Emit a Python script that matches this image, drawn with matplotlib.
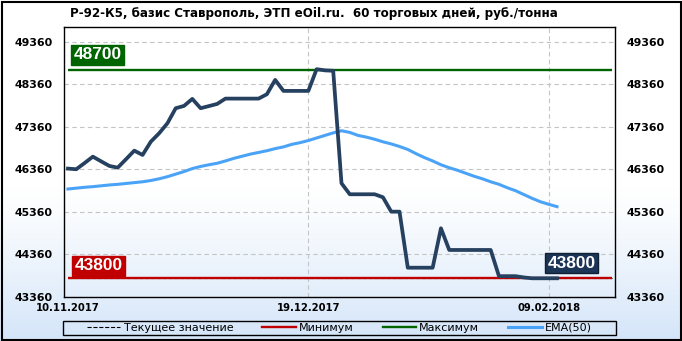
import numpy as np
import matplotlib.pyplot as plt
from matplotlib.patches import Rectangle

# 60 trading days
days = list(range(60))
price = [46380, 46365, 46510, 46661, 46550, 46442, 46402, 46600, 46802, 46701,
         47014, 47211, 47447, 47800, 47854, 48019, 47800, 47850, 47901, 48026,
         48026, 48026, 48026, 48026, 48129, 48466, 48207, 48207, 48207, 48207,
         48718, 48690, 48680, 46035, 45776, 45776, 45776, 45776, 45706, 45367,
         45367, 44049, 44049, 44049, 44049, 44976, 44466, 44466, 44466, 44466,
         44466, 44466, 43850, 43850, 43850, 43820, 43800, 43800, 43800, 43800]
ema50 = [45900, 45920, 45940, 45955, 45975, 45995, 46010, 46030, 46050, 46070,
         46100, 46140, 46190, 46250, 46310, 46380, 46430, 46470, 46505, 46560,
         46620, 46670, 46720, 46760, 46800, 46850, 46890, 46950, 46990, 47040,
         47100, 47160, 47220, 47270, 47230, 47160, 47120, 47070, 47010, 46960,
         46900, 46830, 46730, 46640, 46560, 46470, 46400, 46340, 46270, 46200,
         46140, 46070, 46010, 45930, 45860, 45770, 45680, 45600, 45540, 45485]
max_price = 48700
min_price = 43800
last_price = 43800
date_ticks = [0, 29, 58]
date_labels = ["10.11.2017", "19.12.2017", "09.02.2018"]
y_ticks = [43360, 44360, 45360, 46360, 47360, 48360, 49360]

W, H = 682, 341
fig = plt.figure(figsize=(W / 100, H / 100), dpi=100)

# background gradient: white at top, light blue at bottom
bg = fig.add_axes([0, 0, 1, 1], zorder=-10)
t = np.linspace(0, 1, 256)
fade = np.clip((t - 0.55) / 0.45, 0, 1) ** 1.2
top = np.array([1.0, 1.0, 1.0])
bottom = np.array([212, 229, 249]) / 255
grad = top[None, :] * (1 - fade[:, None]) + bottom[None, :] * fade[:, None]
bg.imshow(grad[:, None, :], aspect="auto", extent=[0, 1, 0, 1])
bg.axis("off")
fig.patches.append(Rectangle((1.5 / W, 1.5 / H), (W - 3) / W, (H - 3) / H,
                             transform=fig.transFigure, fill=False,
                             edgecolor="black", linewidth=1.5))

ax = fig.add_axes([64 / W, 1 - 297 / H, (615 - 64) / W, (297 - 27) / H])
ax.set_facecolor("none")
ax.set_xlim(-0.48, 66.0)
ax.set_ylim(43360, 49710)

for s in ax.spines.values():
    s.set_color("black")
    s.set_linewidth(1.0)

ax.yaxis.grid(True, color="#c4c4c4", linestyle=(0, (4, 3)), linewidth=0.8)
for d in date_ticks[1:]:
    ax.axvline(d, color="#c4c4c4", linestyle=(0, (4, 3)), linewidth=0.8, zorder=0.5)

ax.hlines(last_price, 0, 65.6, colors="black", linestyles="--", linewidth=0.8, zorder=2)
ax.hlines(min_price, 0, 65.6, colors="#c00000", linewidth=1.7, zorder=3)
ax.hlines(max_price, 0, 65.6, colors="#006400", linewidth=1.7, zorder=3)
ax.plot(days, ema50, color="#4aa3f7", linewidth=2.2, zorder=4)
ax.plot(days, price, color="#26405f", linewidth=2.7, zorder=5)

ax.set_yticks(y_ticks)
ax.set_yticklabels([str(v) for v in y_ticks])
ax.set_xticks(date_ticks)
ax.set_xticklabels(date_labels)
ax.tick_params(axis="y", length=0, pad=8, labelright=True, labelsize=7.9)
ax.tick_params(axis="x", length=0, pad=4, labelsize=7.2)
for lab in ax.get_xticklabels():
    lab.set_fontweight("bold")
for tk in ax.yaxis.get_major_ticks():
    tk.label1.set_fontweight("bold")
    tk.label2.set_fontweight("bold")

# value boxes
box_font = dict(family=["Liberation Sans", "DejaVu Sans"], fontsize=12.5,
                fontweight="bold", color="white")
ax.annotate(str(max_price), xy=(0, max_price), xytext=(5.6, 7.6),
            textcoords="offset pixels", ha="left", va="bottom", zorder=6,
            bbox=dict(boxstyle="square,pad=0.15", fc="#006400", ec="#006400"),
            **box_font)
ax.annotate(str(min_price), xy=(0, min_price), xytext=(6.6, 4.9),
            textcoords="offset pixels", ha="left", va="bottom", zorder=6,
            bbox=dict(boxstyle="square,pad=0.15", fc="#c00000", ec="#c00000"),
            **box_font)
ax.annotate(str(last_price), xy=(days[-1], last_price), xytext=(14.5, 7.6),
            textcoords="offset pixels", ha="center", va="bottom", zorder=6,
            bbox=dict(boxstyle="square,pad=0.15", fc="#1c3556", ec="#0e1e33"),
            **box_font)

fig.text(70 / W, 1 - 13 / H,
         "Р-92-К5, базис Ставрополь, ЭТП eOil.ru.  60 торговых дней, руб./тонна",
         ha="left", va="center", fontsize=8.6, fontweight="bold")

# legend
handles = [
    plt.Line2D([], [], color="black", linestyle="--", linewidth=0.8),
    plt.Line2D([], [], color="#c00000", linewidth=1.7),
    plt.Line2D([], [], color="#006400", linewidth=1.7),
    plt.Line2D([], [], color="#4aa3f7", linewidth=2.2),
]
labels = ["Текущее значение", "Минимум", "Максимум", "EMA(50)"]
fig.legend(handles, labels, loc="center", bbox_to_anchor=(339.5 / W, 1 - 328 / H),
           ncol=4, frameon=False, fontsize=8, handlelength=3.0,
           handletextpad=0.3, columnspacing=2.6, borderpad=0)
fig.patches.append(Rectangle((63 / W, 1 - 335 / H), (616 - 63) / W, 14 / H,
                             transform=fig.transFigure, fill=False,
                             edgecolor="black", linewidth=1.0))

fig.savefig("out.png", dpi=100)
